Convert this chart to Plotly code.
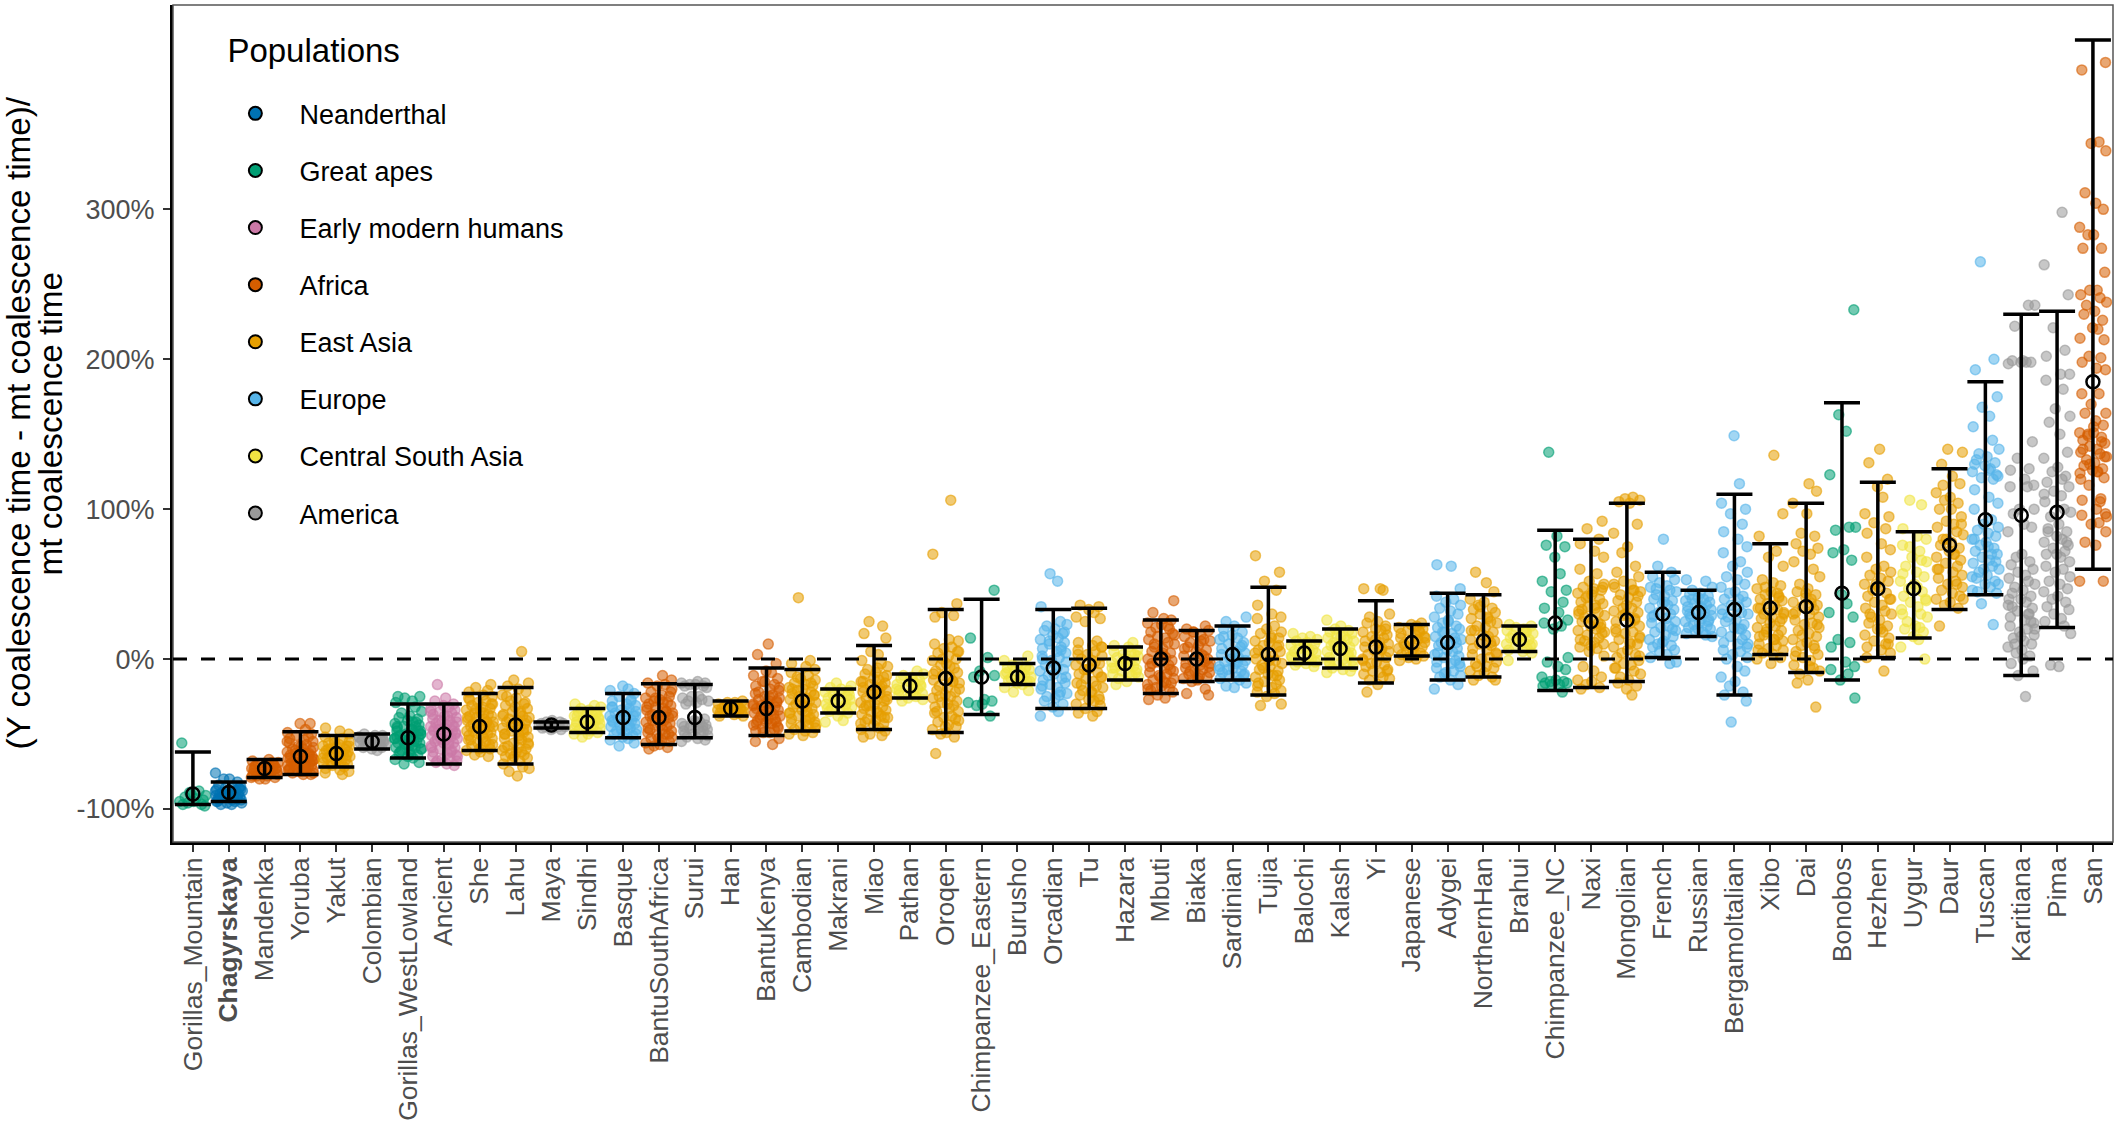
import plotly.graph_objects as go

populations = ["Gorillas_Mountain","Chagyrskaya","Mandenka","Yoruba","Yakut","Colombian","Gorillas_WestLowland","Ancient","She","Lahu","Maya","Sindhi","Basque","BantuSouthAfrica","Surui","Han","BantuKenya","Cambodian","Makrani","Miao","Pathan","Oroqen","Chimpanzee_Eastern","Burusho","Orcadian","Tu","Hazara","Mbuti","Biaka","Sardinian","Tujia","Balochi","Kalash","Yi","Japanese","Adygei","NorthernHan","Brahui","Chimpanzee_NC","Naxi","Mongolian","French","Russian","Bergamoltalian","Xibo","Dai","Bonobos","Hezhen","Uygur","Daur","Tuscan","Karitiana","Pima","San"]
regions = ["Great apes","Neanderthal","Africa","Africa","East Asia","America","Great apes","Early modern humans","East Asia","East Asia","America","Central South Asia","Europe","Africa","America","East Asia","Africa","East Asia","Central South Asia","East Asia","Central South Asia","East Asia","Great apes","Central South Asia","Europe","East Asia","Central South Asia","Africa","Africa","Europe","East Asia","Central South Asia","Central South Asia","East Asia","East Asia","Europe","East Asia","Central South Asia","Great apes","East Asia","East Asia","Europe","Europe","Europe","East Asia","East Asia","Great apes","East Asia","Central South Asia","East Asia","Europe","America","America","Africa"]
means = [-90,-89,-73,-65,-63,-55,-52.5,-50,-45,-44,-44,-42,-39,-39,-39,-33,-33,-28,-28,-22,-18,-13,-12,-12,-6,-4,-3,0,0,3,3,4,7,8,11,11,12,13,24,25,26,30,31,33,34,35,44,47,47,76,93,96,98,185]
lows = [-97,-95,-79,-77,-72,-60,-66,-70,-61,-70,-46,-49,-52.5,-57,-52.5,-38,-51,-48,-36,-47,-26,-49,-37,-17,-33,-33,-14,-23,-15,-14,-24,-3,-6,-16,2,-14,-12,5,-21,-19,-15,1,15,-24,3,-9,-14,1,14,33,43,-11,21,60]
highs = [-62,-82,-67,-48.5,-51,-50,-30,-30,-23,-19,-42,-33,-23,-16.5,-17,-28,-6,-7,-20,9,-10,33,40,-3,33,34,8,26,19,22,48,12,20,39,23,44,43,22,86,80,104,58,46,110,77,104,171,118,85,127,185,230,232,413]

region_names = ["Neanderthal","Great apes","Early modern humans","Africa","East Asia","Europe","Central South Asia","America"]
region_colors = ["0,114,178","0,158,115","204,121,167","213,94,0","230,159,0","86,180,233","240,228,66","153,153,153"]
y_tick_values = [-100,0,100,200,300]
y_tick_labels = ["-100%","0%","100%","200%","300%"]
y_title_lines = ["(Y coalescence time - mt coalescence time)/", "mt coalescence time"]

# spread of the points inside a category (fractions of a category step)
jitter = [-0.31,0.17,-0.05,0.36,-0.22,0.08,0.29,-0.37,0.02,-0.14,0.24,-0.28,0.33,-0.09,0.12,-0.34,0.20,0.38,-0.18,0.05,-0.25,0.27,-0.01,0.14,-0.36,0.31,-0.11,0.22,-0.30,0.10,0.35]

v_gorm = [-56,-88,-90,-91,-92,-93,-94,-95,-95,-96,-97,-97,-98,-89]
v_chag = [-76,-80,-80,-82,-84,-85,-86,-86,-87,-88,-88,-89,-89,-90,-90,-90,-91,-91,-92,-92,-93,-93,-94,-94,-95,-95,-96,-96,-97,-97,-86,-88,-90,-91,-93,-94,-87,-89,-92,-95]
v_mand = [-67,-68,-69,-69,-70,-70,-71,-71,-72,-72,-73,-73,-74,-74,-74,-75,-75,-76,-76,-77,-77,-78,-78,-79,-79,-80,-80,-70,-72,-73,-75,-76,-78]
v_yoru = [-43,-43,-47,-49,-50,-51,-52,-53,-54,-55,-56,-57,-58,-59,-60,-60,-61,-62,-62,-63,-64,-64,-65,-65,-66,-66,-67,-67,-68,-68,-69,-69,-70,-70,-71,-71,-72,-72,-73,-73,-74,-74,-75,-75,-76,-76,-77,-77,-55,-58,-61,-63,-66,-68,-70,-72,-74,-64,-67,-71,-75]
v_yaku = [-46,-48,-50,-52,-53,-54,-55,-56,-57,-58,-58,-59,-60,-60,-61,-62,-62,-63,-63,-64,-65,-65,-66,-66,-67,-68,-68,-69,-70,-71,-72,-73,-74,-75,-76,-77,-56,-58,-60,-62,-64,-66,-68,-70]
v_colo = [-50,-51,-51,-52,-53,-53,-54,-54,-55,-55,-56,-56,-57,-57,-58,-58,-59,-59,-60,-61,-52,-54,-55,-57]
v_gowl = [-25,-25,-26,-28,-29,-32,-35,-36,-38,-39,-40,-41,-42,-43,-44,-45,-45,-46,-47,-48,-48,-49,-50,-50,-51,-52,-52,-53,-54,-54,-55,-56,-56,-57,-58,-59,-59,-60,-61,-62,-63,-64,-65,-66,-67,-69,-70,-42,-45,-47,-50,-52,-55,-57,-60,-62,-64,-48,-53,-58]
v_anci = [-17,-26,-28,-30,-31,-32,-33,-34,-35,-36,-37,-38,-39,-40,-41,-42,-42,-43,-44,-45,-45,-46,-47,-48,-48,-49,-50,-50,-51,-52,-53,-53,-54,-55,-56,-56,-57,-58,-59,-60,-61,-62,-63,-64,-65,-66,-67,-68,-69,-70,-71,-35,-38,-41,-44,-47,-50,-53,-56,-59,-62,-65,-68]
v_she = [-17,-19,-21,-22,-24,-25,-26,-28,-29,-30,-31,-32,-33,-34,-35,-36,-37,-38,-38,-39,-40,-41,-42,-42,-43,-44,-45,-45,-46,-47,-48,-49,-49,-50,-51,-52,-53,-54,-55,-56,-57,-58,-59,-60,-61,-62,-64,-65,-27,-30,-33,-36,-39,-42,-45,-48,-51,-54,-57,-60]
v_lahu = [5,-14,-16,-18,-20,-22,-24,-26,-28,-30,-31,-33,-35,-36,-37,-38,-39,-40,-41,-42,-43,-44,-45,-46,-47,-48,-49,-50,-51,-52,-53,-54,-56,-57,-58,-59,-60,-61,-62,-63,-64,-65,-66,-67,-68,-70,-72,-73,-75,-78,-25,-29,-32,-35,-38,-41,-44,-47,-50,-53,-56,-59,-62,-65]
v_maya = [-41,-42,-42,-43,-43,-44,-44,-44,-45,-45,-45,-46,-46,-47,-47]
v_sind = [-30,-31,-32,-33,-34,-35,-36,-36,-37,-38,-39,-40,-41,-42,-42,-43,-44,-45,-45,-46,-47,-48,-49,-50,-50,-52,-36,-38,-40,-42,-44,-46]
v_basq = [-18,-20,-21,-23,-25,-27,-28,-30,-31,-32,-33,-34,-35,-36,-37,-38,-38,-39,-40,-41,-42,-43,-44,-44,-45,-46,-47,-48,-49,-50,-51,-52,-53,-54,-56,-58,-28,-32,-35,-38,-41,-44,-47,-50]
v_bsaf = [-11,-14,-16,-17,-18,-20,-22,-24,-25,-26,-27,-28,-29,-30,-31,-32,-33,-34,-35,-36,-37,-38,-38,-39,-40,-41,-42,-43,-44,-45,-46,-47,-48,-49,-50,-51,-52,-53,-54,-55,-56,-57,-58,-59,-60,-22,-26,-29,-32,-35,-38,-41,-44,-47,-50,-53]
v_suru = [-15,-16,-16,-17,-17,-18,-18,-19,-25,-25,-26,-27,-28,-28,-29,-30,-40,-41,-42,-43,-44,-44,-45,-45,-46,-47,-48,-49,-50,-51,-52,-53,-54,-55,-42,-46,-48,-50]
v_han = [-28,-29,-29,-30,-31,-31,-32,-32,-33,-33,-33,-34,-34,-35,-35,-36,-36,-37,-38,-38,-31,-33,-35]
v_bken = [10,3,-3,-8,-9,-11,-13,-15,-17,-18,-20,-21,-23,-24,-25,-26,-27,-28,-29,-30,-30,-31,-32,-33,-34,-35,-35,-36,-37,-38,-39,-40,-41,-42,-42,-43,-44,-45,-46,-47,-48,-49,-53,-55,-57,-15,-19,-22,-25,-28,-31,-34,-37,-40,-43,-46,-49]
v_camb = [41,-1,-3,-5,-7,-9,-11,-13,-14,-16,-17,-18,-19,-20,-21,-22,-23,-24,-25,-26,-27,-28,-29,-30,-31,-32,-33,-34,-35,-36,-37,-38,-39,-40,-41,-42,-43,-44,-45,-46,-47,-48,-49,-50,-51,-12,-16,-20,-24,-28,-32,-36,-40,-44]
v_makr = [-16,-18,-19,-20,-21,-22,-23,-24,-25,-26,-27,-28,-29,-30,-31,-32,-33,-34,-35,-36,-38,-41,-42,-24,-27,-30,-33]
v_miao = [25,22,17,14,5,3,-1,-3,-5,-7,-9,-10,-12,-13,-14,-15,-16,-17,-18,-19,-20,-21,-22,-23,-24,-25,-26,-27,-28,-29,-30,-31,-32,-33,-34,-35,-36,-37,-38,-39,-40,-41,-42,-43,-44,-46,-47,-48,-50,-51,-52,-6,-11,-15,-19,-23,-27,-31,-35,-39,-43]
v_path = [-8,-10,-11,-12,-13,-14,-15,-16,-17,-18,-19,-20,-21,-22,-23,-24,-25,-26,-27,-28,-14,-17,-20,-23]
v_oroq = [106,70,37,31,29,28,13,12,10,8,7,5,4,2,0,-1,-3,-4,-6,-8,-9,-11,-12,-14,-15,-16,-18,-19,-21,-22,-24,-25,-26,-28,-29,-31,-32,-33,-35,-36,-38,-39,-41,-42,-44,-45,-47,-49,-50,-52,-63,5,0,-5,-10,-15,-20,-25,-30,-35,-40,-45]
v_chie = [46,14,1,-8,-11,-12,-27,-28,-29,-30,-31,-38]
v_buru = [2,-1,-3,-4,-5,-6,-7,-8,-9,-10,-11,-12,-13,-14,-14,-15,-16,-17,-19,-21,-22,-6,-9,-12,-15]
v_orca = [57,52,35,25,23,22,20,19,17,16,14,13,11,10,8,7,5,4,2,1,-1,-2,-4,-5,-7,-8,-10,-11,-13,-14,-16,-17,-19,-20,-22,-23,-25,-26,-28,-30,-32,-35,-38,18,12,6,0,-6,-12,-18,-24]
v_tu = [36,35,33,31,28,27,25,12,11,9,8,6,5,3,2,0,-1,-3,-4,-6,-7,-9,-10,-12,-13,-15,-16,-18,-19,-21,-22,-24,-25,-27,-28,-30,-31,-33,-35,-36,-38,8,3,-2,-7,-12,-17,-22,-27]
v_haza = [11,9,8,6,5,4,3,2,1,0,-1,-2,-3,-4,-5,-6,-7,-8,-9,-10,-11,-12,-13,-15,-17,3,0,-3,-6,-9]
v_mbut = [39,31,27,26,24,23,21,20,18,17,15,14,13,11,10,8,7,5,4,3,1,0,-1,-2,-4,-5,-6,-8,-9,-10,-11,-13,-14,-15,-16,-17,-18,-19,-20,-21,-22,-24,-26,-27,22,16,10,4,-3,-7,-12,-16,-20]
v_biak = [22,20,19,18,16,15,13,12,11,9,8,6,5,3,2,0,-1,-2,-3,-4,-5,-6,-7,-8,-9,-10,-11,-12,-13,-14,-15,-20,-23,-24,18,12,7,2,-3,-8,-13]
v_sard = [28,25,22,20,18,16,14,13,11,10,8,7,5,4,3,1,0,-1,-2,-3,-4,-5,-6,-7,-8,-9,-10,-11,-12,-13,-14,-16,-18,-19,15,9,4,-2,-7,-11]
v_tuji = [69,58,52,46,36,30,28,27,22,20,18,17,15,14,12,11,9,8,6,5,3,2,0,-1,-3,-4,-5,-7,-8,-10,-11,-12,-14,-15,-17,-18,-19,-21,-22,-23,-25,-30,-31,14,9,4,-1,-6,-11,-16]
v_balo = [17,15,14,13,12,11,10,9,8,7,6,5,4,3,2,1,0,-1,-2,-3,-4,-5,10,6,2,-2]
v_kala = [26,22,20,19,18,17,16,15,14,13,12,11,10,9,8,7,6,5,4,3,2,1,0,-1,-2,-3,-4,-5,-6,-7,-8,-9,15,9,3,-3]
v_yi = [47,47,46,30,28,25,24,22,20,19,18,16,15,14,12,11,10,8,7,6,5,3,2,1,0,-2,-3,-4,-5,-7,-8,-9,-10,-12,-13,-14,-17,-22,20,13,6,-1,-8]
v_japa = [24,23,22,21,20,19,18,17,16,15,14,13,12,11,10,9,8,7,6,5,4,3,2,1,0,-1,19,14,9,4]
v_adyg = [63,62,47,42,40,38,36,34,32,30,28,26,24,22,21,20,18,17,15,14,13,11,10,9,7,6,5,3,2,1,-1,-2,-3,-5,-6,-8,-9,-11,-12,-14,-17,-20,25,18,11,4,-3,-10]
v_nhan = [58,51,45,40,38,36,34,33,31,30,28,27,25,24,22,21,19,18,16,15,13,12,10,9,7,6,4,3,1,0,-2,-3,-5,-6,-8,-9,-11,-12,-14,-14,35,27,19,11,3,-5]
v_brah = [23,22,21,20,19,18,17,16,15,14,13,12,11,10,9,8,7,6,5,4,-1,18,14,10]
v_chnc = [138,82,76,75,68,57,52,46,45,38,34,31,26,24,22,20,1,-2,-5,-7,-12,-14,-15,-15,-16,-16,-17,-17,-18,-22]
v_naxi = [92,87,80,77,72,68,60,57,52,50,48,47,46,44,43,41,40,38,37,35,34,32,31,29,28,26,25,23,22,20,19,17,16,14,13,11,10,8,7,5,2,-5,-8,-12,-14,-15,-17,-19,-20,48,42,36,30,24,18,12,45,33,21,9]
v_mong = [108,107,106,105,104,90,84,75,71,62,58,55,52,50,48,46,45,43,41,39,38,36,34,32,31,29,27,25,24,22,20,18,17,15,13,11,10,8,6,4,3,1,-1,-3,-4,-6,-8,-10,-12,-14,-16,-18,-20,-24,50,42,34,26,18,10,2,-6,46,30,14]
v_fren = [80,62,58,55,53,51,49,48,46,45,43,42,40,39,37,36,34,33,31,30,28,27,25,24,22,21,19,18,16,15,13,12,10,9,8,6,5,3,1,-3,-2,47,38,29,20,11]
v_russ = [53,52,48,46,44,43,42,41,40,39,38,37,36,35,34,33,32,31,30,29,28,27,26,25,24,23,22,21,20,19,18,17,16,15,40,35,30,25,20]
v_berg = [149,117,104,100,97,90,85,80,75,71,65,62,58,55,53,50,48,45,44,42,40,38,36,35,33,31,30,28,26,25,23,21,20,18,16,15,13,11,10,8,6,5,3,1,0,-5,-8,-12,-15,-18,-22,-24,-28,-42,40,30,20,10]
v_xibo = [136,97,82,72,68,62,53,51,49,47,45,43,42,40,39,37,36,34,33,31,30,28,27,25,24,22,21,19,18,16,15,13,12,10,9,7,6,4,3,1,0,-3,48,41,34,27,20,13,6,44,30,16]
v_dai = [117,112,104,97,84,82,77,74,72,70,65,60,55,50,47,45,43,41,40,38,36,35,33,31,30,28,26,24,23,21,19,17,15,13,11,9,7,5,3,1,-1,-4,-6,-8,-10,-14,-16,-32,44,37,30,23,16,9,2,-5]
v_bono = [233,163,152,123,88,88,86,73,71,66,43,37,31,28,13,11,8,-2,-5,-7,-10,-14,-26]
v_hezh = [140,131,120,115,108,97,95,91,87,84,77,73,68,62,60,58,56,54,52,50,48,46,44,42,40,38,36,34,32,30,28,26,24,22,20,18,16,14,12,10,8,6,4,1,-8,50,40,30,20,10]
v_uygu = [106,103,87,82,80,76,72,68,65,62,58,55,52,50,47,45,42,40,38,35,33,30,28,25,22,20,18,15,13,8,0,75,66,57,48,39,30,21]
v_daur = [140,138,130,122,117,111,108,106,104,100,95,92,90,88,85,83,80,78,76,74,72,70,68,66,64,62,60,58,56,54,52,50,48,46,44,42,40,38,36,34,22,90,80,70,60,50,40,116,100]
v_tusc = [265,200,193,175,168,162,155,146,140,137,135,133,131,129,127,125,123,121,120,113,108,104,100,93,90,88,86,84,82,80,78,76,74,72,70,68,66,64,62,60,58,56,54,52,50,48,46,44,37,23,130,126,122,80,70,60,50,45,75,65,55]
v_kari = [236,236,222,199,199,198,198,198,197,145,134,127,126,120,116,115,115,100,100,97,90,88,85,70,68,65,63,60,58,56,54,52,50,48,46,44,42,40,38,36,34,32,30,28,26,24,22,20,18,16,14,12,10,8,6,4,2,-3,-8,-11,-25,40,30,20,10,0,35,25,15]
v_pima = [298,263,243,221,206,202,190,190,186,180,167,162,158,150,138,134,128,125,122,118,115,112,109,105,100,98,95,90,87,85,82,80,78,76,74,72,70,68,65,62,60,58,55,52,50,47,45,42,40,38,35,33,30,27,25,22,17,-4,-5,85,78,70,120,110]
v_san = [398,393,345,344,339,311,304,300,288,283,283,274,274,258,246,246,243,241,238,236,232,230,226,221,220,214,213,202,201,198,194,193,177,177,170,164,164,159,156,151,151,149,148,146,144,142,140,138,137,135,133,131,129,127,126,125,124,121,116,107,106,100,97,96,91,90,85,78,76,52,52,155,150,145,140,135,130,125,120,105,95]

point_values = [v_gorm,v_chag,v_mand,v_yoru,v_yaku,v_colo,v_gowl,v_anci,v_she,v_lahu,v_maya,v_sind,v_basq,v_bsaf,v_suru,v_han,v_bken,v_camb,v_makr,v_miao,v_path,v_oroq,v_chie,v_buru,v_orca,v_tu,v_haza,v_mbut,v_biak,v_sard,v_tuji,v_balo,v_kala,v_yi,v_japa,v_adyg,v_nhan,v_brah,v_chnc,v_naxi,v_mong,v_fren,v_russ,v_berg,v_xibo,v_dai,v_bono,v_hezh,v_uygu,v_daur,v_tusc,v_kari,v_pima,v_san]

FONT = "Liberation Sans"
GREY = "#4d4d4d"
colour_of = dict(zip(region_names, region_colors))
L, R, T, B = 173, 8, 5, 282
PLOT_W = 2121 - L - R

fig = go.Figure()
for i, (vals, reg) in enumerate(zip(point_values, regions)):
    rgb = colour_of[reg]
    xs = [i + jitter[(k + i * 7) % len(jitter)] for k in range(len(vals))]
    fig.add_trace(go.Scatter(
        x=xs, y=vals, mode="markers", showlegend=False, hoverinfo="skip",
        marker=dict(size=10, color=f"rgba({rgb},0.55)", line=dict(color=f"rgba({rgb},0.6)", width=1.5)),
    ))

fig.add_trace(go.Scatter(
    x=list(range(len(populations))), y=means, mode="markers", showlegend=False,
    marker=dict(size=13, symbol="circle-open", color="black", line=dict(color="black", width=2.5)),
    error_y=dict(type="data", symmetric=False,
                 array=[h - m for h, m in zip(highs, means)],
                 arrayminus=[m - l for m, l in zip(means, lows)],
                 color="black", thickness=3.5, width=18),
))

for name in region_names:
    fig.add_trace(go.Scatter(
        x=[None], y=[None], mode="markers", name=name, legendgroup=name,
        marker=dict(size=13, color=f"rgb({colour_of[name]})", line=dict(color="black", width=2)),
    ))

tick_text = [f"<b>{p}</b>" if p == "Chagyrskaya" else p for p in populations]

fig.update_layout(
    width=2121, height=1124,
    margin=dict(l=L, r=R, t=T, b=B, autoexpand=False),
    paper_bgcolor="white", plot_bgcolor="white",
    font=dict(family=FONT, color="black"),
    legend=dict(
        x=0.027, y=0.9645, xanchor="left", yanchor="top", bgcolor="rgba(0,0,0,0)",
        title=dict(text='<span style="font-size:33px">Populations</span><br> ',
                   font=dict(size=21, color="black", family=FONT)),
        font=dict(size=27, color="black", family=FONT),
        tracegroupgap=19, itemwidth=78, indentation=-14,
    ),
    shapes=[
        dict(type="rect", xref="paper", yref="paper", x0=0, x1=1, y0=0, y1=1,
             line=dict(color="#555555", width=1.5), layer="above"),
        dict(type="line", xref="paper", yref="y", x0=0, x1=1, y0=0, y1=0,
             line=dict(color="black", width=3, dash="14px,14px"), layer="above"),
    ],
    annotations=[
        dict(text=y_title_lines[0], xref="paper", yref="paper", x=(18 - L) / PLOT_W, y=0.5,
             textangle=-90, showarrow=False, xanchor="center", yanchor="middle",
             font=dict(size=33.3, color="black", family=FONT)),
        dict(text=y_title_lines[1], xref="paper", yref="paper", x=(50 - L) / PLOT_W, y=0.5,
             textangle=-90, showarrow=False, xanchor="center", yanchor="middle",
             font=dict(size=33.3, color="black", family=FONT)),
    ],
)
fig.update_xaxes(
    range=[-0.555, 53.56], tickmode="array", tickvals=list(range(len(populations))), ticktext=tick_text,
    tickangle=-90, tickfont=dict(size=26.5, color=GREY, family=FONT), ticklabelstandoff=-5,
    ticks="outside", ticklen=7, tickwidth=2, tickcolor="#333333",
    showline=True, linewidth=3, linecolor="black", showgrid=False, zeroline=False,
)
fig.update_yaxes(
    range=[-122, 436.3], tickmode="array", tickvals=y_tick_values, ticktext=y_tick_labels,
    tickfont=dict(size=27, color=GREY, family=FONT), ticklabelstandoff=3,
    ticks="outside", ticklen=7, tickwidth=2, tickcolor="#333333",
    showline=True, linewidth=3, linecolor="black", showgrid=False, zeroline=False,
)

fig.write_html("out.html", config={"displayModeBar": False}, post_script="document.body.style.margin='0';")
